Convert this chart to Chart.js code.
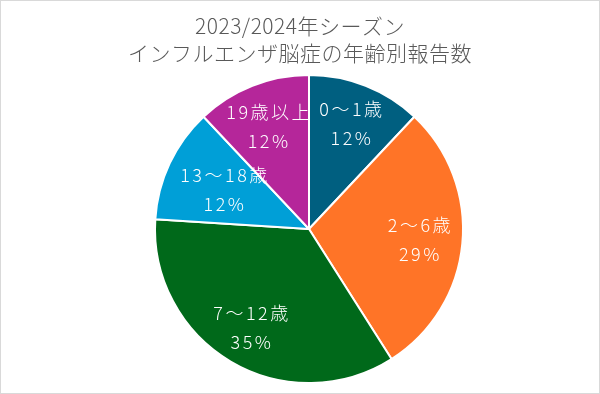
<!DOCTYPE html>
<html>
<head>
<meta charset="utf-8">
<script src="https://cdn.jsdelivr.net/npm/chart.js@4"></script>
<style>
  body { margin: 0; background: #fff; }
  #wrap { width: 600px; height: 394px; box-sizing: border-box; border: 1px solid #d9d9d9; }
</style>
</head>
<body>
<div id="wrap"><canvas id="myChart" width="598" height="392"></canvas></div>
<script>
// データ
var titulo = ["2023/2024年シーズン", "インフルエンザ脳症の年齢別報告数"];
var categorias = ["0〜1歳", "2〜6歳", "7〜12歳", "13〜18歳", "19歳以上"];
var valores = [12, 29, 35, 12, 12];
var colores = ["#005f80", "#ff7427", "#00691a", "#009fd7", "#b5269a"];

const ctx = document.getElementById('myChart');
const fuente = "'Noto Sans CJK JP', 'Noto Sans', sans-serif";

// ラベル位置 (半径に対する割合)
var posLabel = [0.74, 0.72, 0.74, 0.61, 0.72];

const etiquetas = {
  id: "etiquetas",
  afterDatasetsDraw(chart) {
    let c = chart.ctx;
    let meta = chart.getDatasetMeta(0);
    let total = valores.reduce((a, b) => a + b, 0);

    c.save();
    c.fillStyle = "#ffffff";
    c.font = "300 18px " + fuente;
    c.letterSpacing = "2.5px";
    c.textAlign = "center";
    c.textBaseline = "middle";

    meta.data.forEach(function (arc, i) {
      let ang = (arc.startAngle + arc.endAngle) / 2;
      let r = arc.outerRadius * posLabel[i];
      let x = arc.x + Math.cos(ang) * r;
      let y = arc.y + Math.sin(ang) * r;
      let pct = Math.round(valores[i] / total * 100) + "%";
      c.fillText(categorias[i], x + 1, y - 14);
      c.fillText(pct, x + 1, y + 15);
    });

    // タイトル
    c.fillStyle = "#595959";
    c.font = "300 21px " + fuente;
    c.letterSpacing = "0.5px";
    c.fillText(titulo[0], 299, 25);
    c.fillText(titulo[1], 299, 52);
    c.restore();
  }
};

new Chart(ctx, {
  type: "pie",
  data: {
    labels: categorias,
    datasets: [{
      data: valores,
      backgroundColor: colores,
      borderColor: "#ffffff",
      borderWidth: 2,
    }]
  },
  options: {
    responsive: false,
    animation: false,
    layout: {
      padding: { top: 73, bottom: 9, left: 18, right: 0 }
    },
    plugins: {
      legend: { display: false },
      title: { display: false },
      tooltip: { enabled: false }
    }
  },
  plugins: [etiquetas]
});
</script>
</body>
</html>
